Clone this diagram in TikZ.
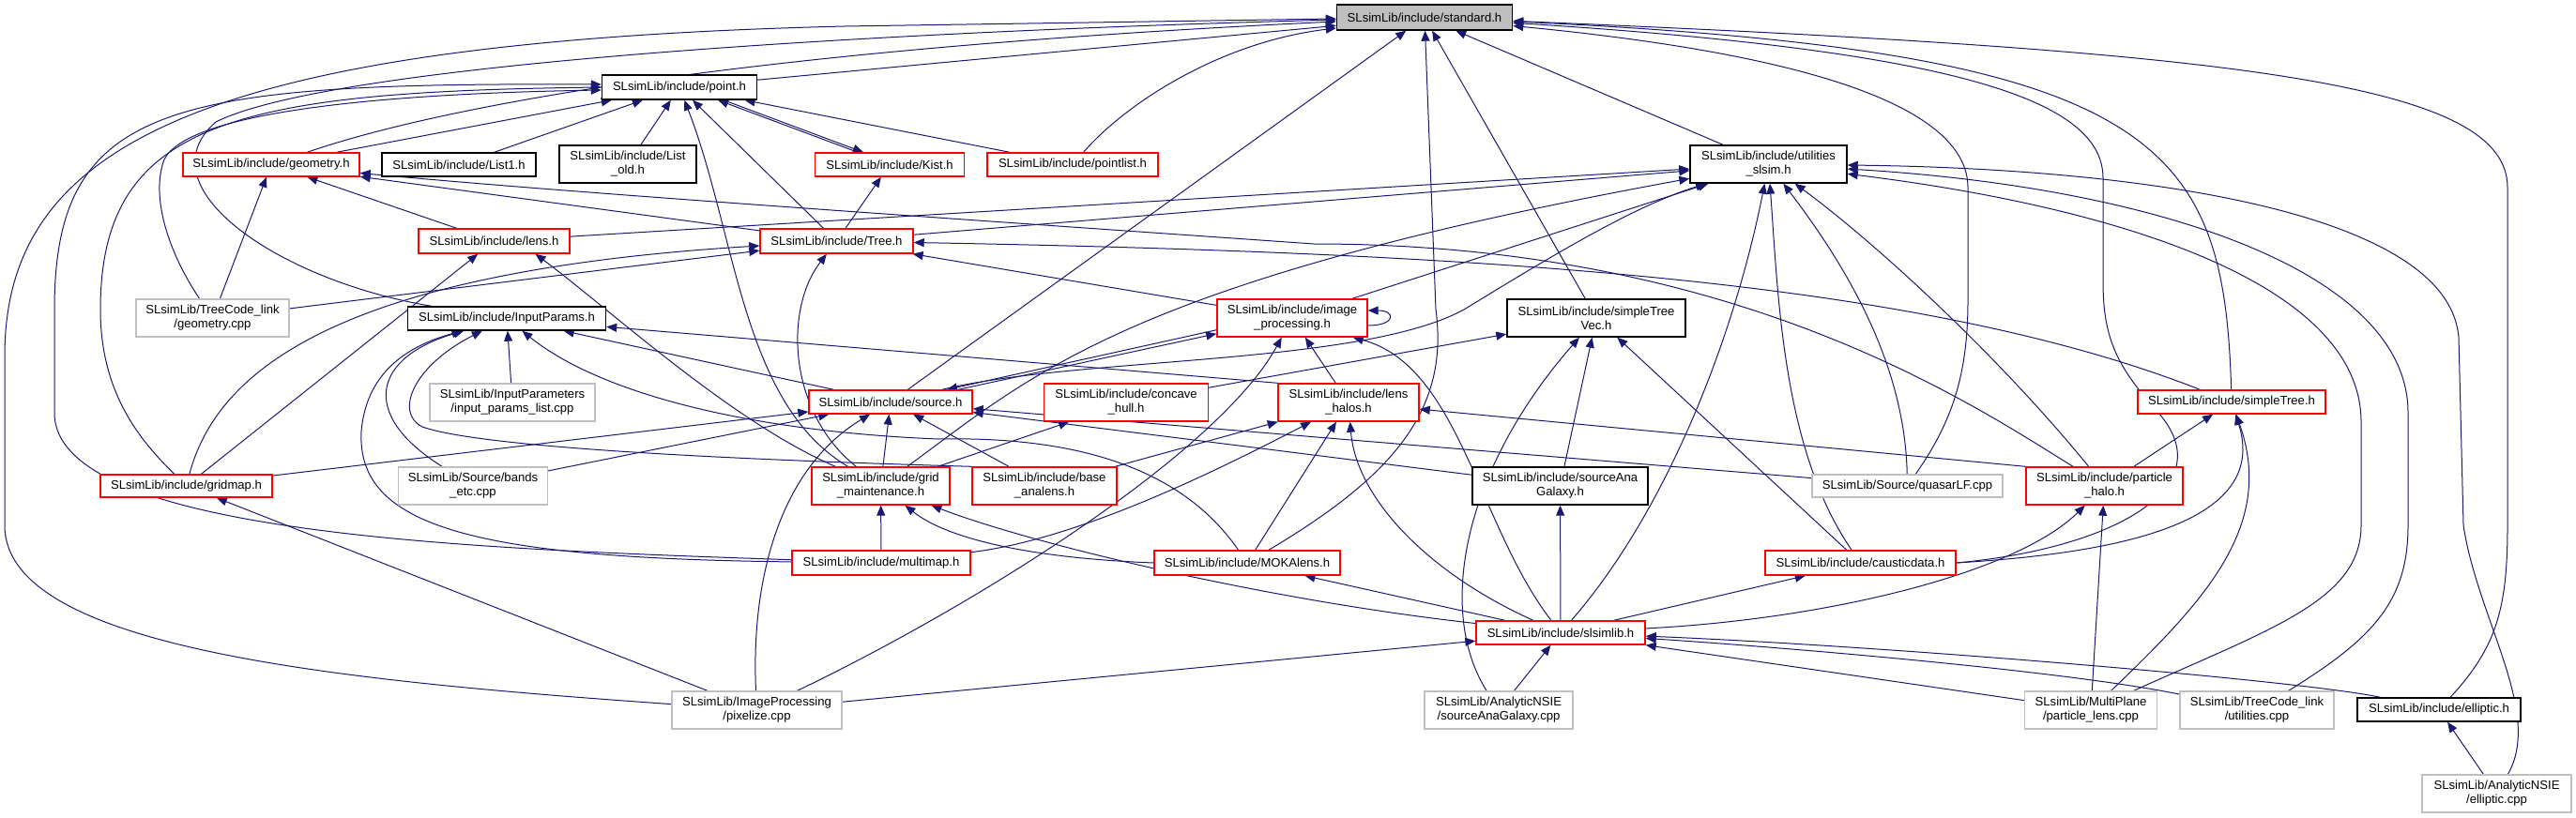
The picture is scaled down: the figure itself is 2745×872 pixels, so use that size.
\documentclass[tikz,border=0pt]{standalone}
\usepackage{fontspec}
\setmainfont{Liberation Sans}
\usetikzlibrary{arrows.meta,backgrounds}
\definecolor{edgeblue}{RGB}{25,25,112}
\definecolor{hdrred}{RGB}{255,0,0}
\definecolor{cppgrey}{RGB}{191,191,191}
\begin{document}
\begin{tikzpicture}[x=0.5pt, y=-0.5pt]
        \tikzstyle{file}=[draw, rectangle, fill=white, line width=0.7pt, inner sep=0pt, minimum height=12.5pt, align=center, font=\fontsize{6.55}{7.5}\selectfont]
        \tikzstyle{hfile}=[file, draw=hdrred]
        \tikzstyle{dfile}=[file, draw=black]
        \tikzstyle{cfile}=[file, draw=cppgrey]
        \tikzstyle{rootfile}=[file, draw=black, fill=cppgrey, minimum height=13.5pt]
        \tikzstyle{tall}=[minimum height=20pt]
        \tikzstyle{inc}=[draw=edgeblue, line width=0.5pt, -{Triangle[length=5.5pt,width=4.5pt]}]

        \useasboundingbox (0,0) rectangle (2745,872);

        \node[rootfile, minimum width=93.5pt] (std) at (1518,18.5) {SLsimLib/include/standard.h};
        \node[dfile, minimum width=82.5pt, minimum height=13pt] (pnt) at (724,93) {SLsimLib/include/point.h};
        \node[hfile, minimum width=94pt] (geom) at (289,175.5) {SLsimLib/include/geometry.h};
        \node[dfile, minimum width=82pt] (lst1) at (489,175.5) {SLsimLib/include/List1.h};
        \node[dfile, tall, minimum width=73pt] (lstold) at (669,175) {SLsimLib/include/List\\\_old.h};
        \node[hfile, minimum width=79.5pt] (kist) at (948,175.5) {SLsimLib/include/Kist.h};
        \node[hfile, minimum width=91pt] (plist) at (1143,175.5) {SLsimLib/include/pointlist.h};
        \node[dfile, tall, minimum width=83.5pt] (util) at (1884.5,175) {SLsimLib/include/utilities\\\_slsim.h};
        \node[hfile, minimum width=80.5pt, minimum height=13pt] (lens) at (526.5,257) {SLsimLib/include/lens.h};
        \node[hfile, minimum width=81.5pt, minimum height=13pt] (tree) at (891.5,257) {SLsimLib/include/Tree.h};
        \node[cfile, tall, minimum width=81.5pt] (tcgeo) at (226.5,339) {SLsimLib/TreeCode\_link\\/geometry.cpp};
        \node[dfile, minimum width=105.5pt] (inp) at (540,339.5) {SLsimLib/include/InputParams.h};
        \node[hfile, tall, minimum width=80pt] (improc) at (1377,339) {SLsimLib/include/image\\\_processing.h};
        \node[dfile, tall, minimum width=95pt] (stvec) at (1701,339) {SLsimLib/include/simpleTree\\Vec.h};
        \node[cfile, tall, minimum width=88pt] (iplist) at (546,429) {SLsimLib/InputParameters\\/input\_params\_list.cpp};
        \node[hfile, minimum width=87pt] (srch) at (949,428.5) {SLsimLib/include/source.h};
        \node[hfile, tall, minimum width=87.5pt] (chull) at (1200,429) {SLsimLib/include/concave\\\_hull.h};
        \node[hfile, tall, minimum width=75pt] (lhalos) at (1437,429) {SLsimLib/include/lens\\\_halos.h};
        \node[hfile, minimum width=100pt] (stree) at (2378,428.5) {SLsimLib/include/simpleTree.h};
        \node[hfile, minimum width=91.5pt, minimum height=12pt] (gmap) at (198.5,518) {SLsimLib/include/gridmap.h};
        \node[cfile, tall, minimum width=79.5pt] (bands) at (504,518) {SLsimLib/Source/bands\\\_etc.cpp};
        \node[hfile, tall, minimum width=73.5pt] (gmaint) at (938.5,518) {SLsimLib/include/grid\\\_maintenance.h};
        \node[hfile, tall, minimum width=77pt] (bana) at (1113,518) {SLsimLib/include/base\\\_analens.h};
        \node[dfile, tall, minimum width=93.5pt] (sagh) at (1662.5,518) {SLsimLib/include/sourceAna\\Galaxy.h};
        \node[cfile, minimum width=101.5pt, minimum height=12pt] (qlf) at (2032.5,518) {SLsimLib/Source/quasarLF.cpp};
        \node[hfile, tall, minimum width=83.5pt] (phalo) at (2242.5,518) {SLsimLib/include/particle\\\_halo.h};
        \node[hfile, minimum width=95pt, minimum height=13pt] (mmap) at (939,600) {SLsimLib/include/multimap.h};
        \node[hfile, minimum width=99pt, minimum height=13pt] (moka) at (1329,600) {SLsimLib/include/MOKAlens.h};
        \node[hfile, minimum width=101.5pt, minimum height=13pt] (caus) at (1982.5,600) {SLsimLib/include/causticdata.h};
        \node[hfile, minimum width=90pt] (slsim) at (1663,674.5) {SLsimLib/include/slsimlib.h};
        \node[cfile, tall, minimum width=90.5pt] (pix) at (806.5,757) {SLsimLib/ImageProcessing\\/pixelize.cpp};
        \node[cfile, tall, minimum width=79pt] (sagcpp) at (1597,757) {SLsimLib/AnalyticNSIE\\/sourceAnaGalaxy.cpp};
        \node[cfile, tall, minimum width=70.5pt] (plens) at (2228,757) {SLsimLib/MultiPlane\\/particle\_lens.cpp};
        \node[cfile, tall, minimum width=82pt] (tcutil) at (2405,757) {SLsimLib/TreeCode\_link\\/utilities.cpp};
        \node[dfile, minimum width=87pt] (ell) at (2599,756.5) {SLsimLib/include/elliptic.h};
        \node[cfile, tall, minimum width=79.5pt] (ellcpp) at (2660.5,846) {SLsimLib/AnalyticNSIE\\/elliptic.cpp};

        \begin{pgfonlayer}{background}
        \draw[inc] (pnt) -- (std);
        \draw[inc] (geom) .. controls (450,120) and (750,55) .. (std);
        \draw[inc] (inp) .. controls (300,300) and (150,200) .. (230,130) .. controls (350,70) and (900,35) .. (std);
        \draw[inc] (pix) .. controls (350,725) and (5,690) .. (5,560) -- (5,380) .. controls (5,160) and (200,45) .. (900,28) -- (std);
        \draw[inc] (srch) -- (std);
        \draw[inc] (plist) .. controls (1200,110) and (1300,45) .. (std);
        \draw[inc] (moka) .. controls (1480,510) and (1545,440) .. (1530,330) -- (std);
        \draw[inc] (stvec) -- (std);
        \draw[inc] (util) -- (std);
        \draw[inc] (stree) .. controls (2370,150) and (2300,55) .. (std);
        \draw[inc] (ell) .. controls (2660,690) and (2672,650) .. (2672,560) -- (2672,200) .. controls (2672,90) and (2400,55) .. (std);
        \draw[inc] (caus.east) .. controls (2250,585) and (2370,520) .. (2300,440) .. controls (2255,390) and (2241,360) .. (2241,300) -- (2241,190) .. controls (2241,110) and (2100,55) .. (std);
        \draw[inc] (qlf) .. controls (2080,450) and (2097,400) .. (2097,320) -- (2097,200) .. controls (2097,120) and (1950,60) .. (std);

        \draw[inc] (geom) -- (pnt);
        \draw[inc] (lst1) -- (pnt);
        \draw[inc] (lstold) -- (pnt);
        \draw[inc] (gmaint) .. controls (790,430) and (785,250) .. (pnt);
        \draw[inc] (tree) -- (pnt);
        \draw[inc] ([xshift=-17pt]kist.north) -- ([xshift=20.5pt]pnt.south);
        \draw[inc] ([xshift=23.5pt]pnt.south) -- ([xshift=-14pt]kist.north);
        \draw[inc] (plist) -- (pnt);
        \draw[inc] (mmap) .. controls (500,585) and (58,570) .. (58,440) -- (58,330) .. controls (58,110) and (180,88) .. ([yshift=1.5pt]pnt.west);
        \draw[inc] (gmap) .. controls (150,470) and (107,420) .. (107,330) .. controls (107,130) and (250,98) .. (pnt.west);
        \draw[inc] (tcgeo) .. controls (180,270) and (160,210) .. (175,170) .. controls (200,120) and (400,100) .. ([yshift=-1.5pt]pnt.west);

        \draw[inc] (tcgeo) -- (geom);
        \draw[inc] (lens) -- (geom);
        \draw[inc] (tree) -- (geom);
        \draw[inc] (phalo) .. controls (2100,430) and (1850,260) .. (1400,260) .. controls (1000,232) and (600,205) .. (geom);
        \draw[inc] (tree) -- (kist);

        \draw[inc] (lens) -- (util);
        \draw[inc] (tree) -- (util);
        \draw[inc] (gmaint) .. controls (1100,400) and (1200,300) .. (util);
        \draw[inc] (srch) .. controls (1150,380) and (1450,390) .. (1560,330) .. controls (1650,275) and (1740,220) .. (util);
        \draw[inc] (improc) -- (util);
        \draw[inc] (slsim) .. controls (1780,540) and (1850,350) .. (util);
        \draw[inc] (caus) .. controls (1900,480) and (1895,320) .. (util);
        \draw[inc] (qlf) .. controls (2030,400) and (1980,300) .. (util);
        \draw[inc] (phalo) .. controls (2130,380) and (2000,260) .. (util);
        \draw[inc] (plens) .. controls (2420,670) and (2516,640) .. (2516,560) -- (2516,450) .. controls (2516,300) and (2250,220) .. (util);
        \draw[inc] (tcutil) .. controls (2530,680) and (2566,640) .. (2566,560) -- (2566,440) .. controls (2566,290) and (2300,200) .. (util);
        \draw[inc] (ellcpp) .. controls (2710,760) and (2640,660) .. (2625,560) -- (2620,360) .. controls (2610,230) and (2300,180) .. (util);

        \draw[inc] (gmap) -- (lens);
        \draw[inc] (gmaint) .. controls (780,450) and (650,330) .. ([xshift=22pt]lens.south);

        \draw[inc] (tcgeo) -- (tree);
        \draw[inc] (gmap) .. controls (230,400) and (350,290) .. (tree);
        \draw[inc] (gmaint) .. controls (840,440) and (835,330) .. (tree);
        \draw[inc] (improc) -- (tree);
        \draw[inc] (stree) .. controls (2050,300) and (1600,270) .. (tree);

        \draw[inc] (iplist) -- (inp);
        \draw[inc] (bands) .. controls (380,440) and (400,380) .. (inp);
        \draw[inc] (mmap) .. controls (500,595) and (380,560) .. (385,460) .. controls (390,400) and (430,370) .. (inp);
        \draw[inc] (srch) -- (inp);
        \draw[inc] (moka) .. controls (1260,500) and (1150,465) .. (1000,468) .. controls (800,460) and (640,420) .. (inp);
        \draw[inc] (bana.north west) .. controls (850,492) and (520,480) .. (450,455) .. controls (420,440) and (440,390) .. (inp);
        \draw[inc] (lhalos.north west) -- (inp);

        \draw[inc] (gmap) -- (srch);
        \draw[inc] (bands) -- (srch);
        \draw[inc] (pix) .. controls (800,620) and (830,500) .. (srch);
        \draw[inc] (gmaint) -- (srch);
        \draw[inc] (bana) -- (srch);
        \draw[inc] (qlf) -- (srch);
        \draw[inc] (sagh) -- (srch);
        \draw[inc] ([yshift=4pt]improc.south west) -- ([xshift=30pt]srch.north);
        \draw[inc] ([xshift=36pt]srch.north) -- ([yshift=2pt]improc.south west);
        \draw[inc] ([yshift=-4pt]improc.east) .. controls +(30,0) and +(30,0) .. ([yshift=4pt]improc.east);

        \draw[inc] (pix) .. controls (1050,640) and (1300,480) .. (improc);
        \draw[inc] (slsim) .. controls (1575,560) and (1555,390) .. ([xshift=-8pt]improc.south east);
        \draw[inc] (lhalos) -- (improc);

        \draw[inc] (chull) -- (stvec);
        \draw[inc] (sagcpp) .. controls (1530,650) and (1560,500) .. (stvec);
        \draw[inc] (sagh) -- (stvec);
        \draw[inc] (caus) -- (stvec);
        \draw[inc] (gmaint) -- (chull);

        \draw[inc] (bana) -- (lhalos);
        \draw[inc] (mmap) .. controls (1150,575) and (1300,500) .. (lhalos);
        \draw[inc] (moka) -- (lhalos);
        \draw[inc] (slsim) .. controls (1520,610) and (1445,530) .. (lhalos);
        \draw[inc] (phalo.north west) -- (lhalos);

        \draw[inc] (phalo) -- (stree);
        \draw[inc] (caus.east) .. controls (2250,590) and (2420,560) .. (stree);
        \draw[inc] (plens) .. controls (2350,640) and (2425,560) .. (stree);

        \draw[inc] (pix) -- (gmap);
        \draw[inc] (mmap) -- (gmaint);
        \draw[inc] (moka.west) .. controls (1100,595) and (1010,575) .. (gmaint);
        \draw[inc] (slsim) .. controls (1350,640) and (1100,580) .. (gmaint);
        \draw[inc] (slsim) -- (sagh);
        \draw[inc] (slsim) .. controls (1950,660) and (2150,610) .. (phalo);
        \draw[inc] (plens) -- (phalo);
        \draw[inc] (slsim) -- (moka);
        \draw[inc] (slsim) -- (caus);
        \draw[inc] (pix) -- (slsim);
        \draw[inc] (sagcpp) -- (slsim);
        \draw[inc] (plens) -- (slsim);
        \draw[inc] (tcutil) .. controls (2200,715) and (1900,690) .. (slsim);
        \draw[inc] (ell) .. controls (2450,725) and (2000,688) .. (slsim);
        \draw[inc] (ellcpp) -- (ell);
        \end{pgfonlayer}
    \end{tikzpicture}
\end{document}
